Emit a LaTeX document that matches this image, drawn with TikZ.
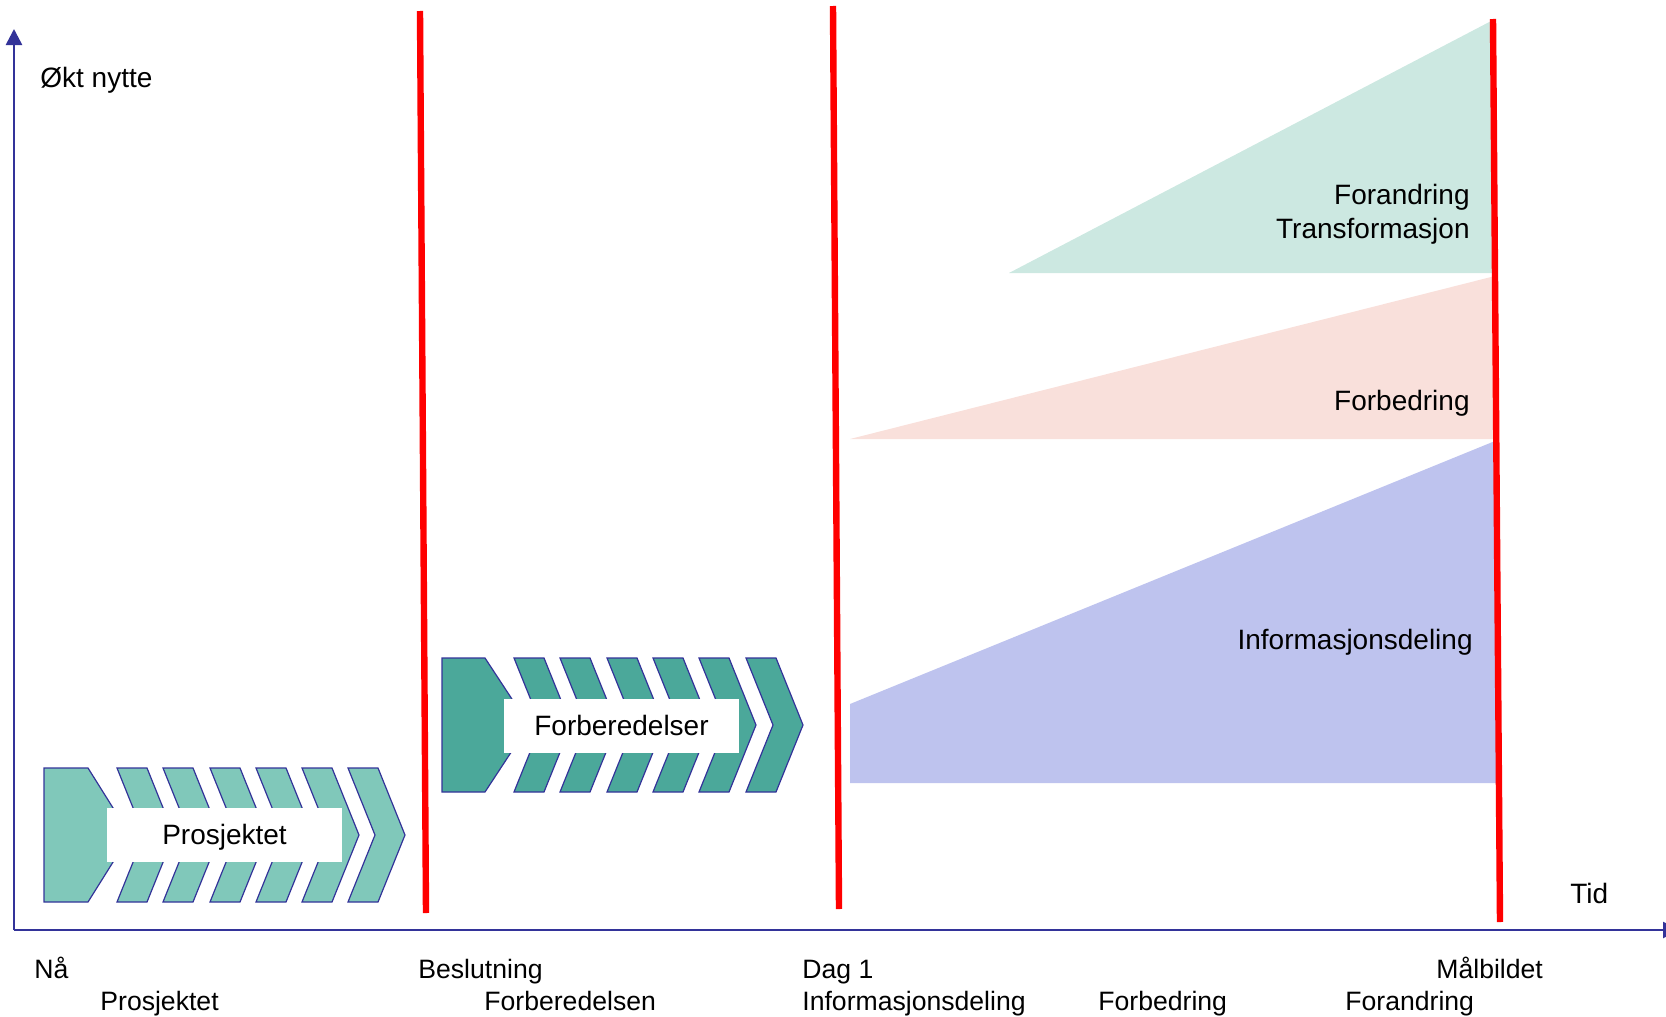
\documentclass[tikz,border=0pt]{standalone}
\usepackage{fontspec}
\setmainfont{Liberation Sans}
\usetikzlibrary{arrows.meta}
\definecolor{axisblue}{HTML}{333399}
\definecolor{tealA}{HTML}{80C8BA}
\definecolor{tealB}{HTML}{4BA89A}
\definecolor{triGreen}{HTML}{CCE8E1}
\definecolor{triPink}{HTML}{F9E0DB}
\definecolor{triBlue}{HTML}{BEC3EE}
\newcommand\chevshape[3]{\draw[#3] (#1,#2) -- ++(30,0) -- ++(27,67) -- ++(-27,67) -- ++(-30,0) -- ++(27,-67) -- cycle;}
\begin{document}
\begin{tikzpicture}[x=0.5pt,y=-0.5pt,
  axisline/.style={draw=axisblue,line width=1.3pt},
  redline/.style={draw=red,line width=3.2pt},
  chevA/.style={fill=tealA,draw=axisblue,line width=0.6pt,line join=miter},
  chevB/.style={fill=tealB,draw=axisblue,line width=0.6pt,line join=miter},
  biglbl/.style={inner sep=0pt,font=\fontsize{14}{16}\selectfont},
  botlbl/.style={inner sep=0pt,anchor=base west,font=\fontsize{13.3}{15}\selectfont},
  whitebox/.style={fill=white,inner sep=0pt,minimum width=117.5pt,minimum height=27pt,
    text height=9.5pt,text depth=0pt,font=\fontsize{14}{16}\selectfont}]
\useasboundingbox (0,0) rectangle (1666,1017);
\clip (0,0) rectangle (1666,1017);

% triangles
\fill[triGreen] (1009,273) -- (1495,19) -- (1495,273) -- cycle;
\fill[triPink] (850,439) -- (1495,276) -- (1495,439) -- cycle;
\fill[triBlue] (850,704) -- (1495,441) -- (1497,783) -- (850,783) -- cycle;

% group 1 chevrons
\draw[chevA] (44,768) -- (88,768) -- (130,835) -- (88,902) -- (44,902) -- cycle;
\foreach \xx in {117,163,210,256,302,348}{\chevshape{\xx}{768}{chevA}}
\node[whitebox] (prosj) at (224.5,835) {Prosjektet};

% group 2 chevrons
\draw[chevB] (442,658) -- (485,658) -- (529,725) -- (485,792) -- (442,792) -- cycle;
\foreach \xx in {514,560,607,653,699,746}{\chevshape{\xx}{658}{chevB}}
\node[whitebox] (forb) at (621.5,726) {Forberedelser};

% axes
\coordinate (O) at (14,930);
\coordinate (ytop) at (14,29);
\coordinate (xend) at (1679,930);
\draw[axisline,-{Triangle[length=8pt,width=8pt]}] (O) -- (ytop);
\draw[axisline,-{Triangle[length=8pt,width=8pt]}] (O) -- (xend);

% red lines
\coordinate (r1a) at (420,11); \coordinate (r1b) at (426,913);
\coordinate (r2a) at (833,6); \coordinate (r2b) at (839,909);
\coordinate (r3a) at (1493,19); \coordinate (r3b) at (1500,922);
\draw[redline] (r1a) -- (r1b);
\draw[redline] (r2a) -- (r2b);
\draw[redline] (r3a) -- (r3b);

% labels
\node[biglbl,anchor=base west] (okt) at (40,87) {Økt nytte};
\node[biglbl,anchor=base west] (tid) at (1570,903) {Tid};
\node[biglbl,anchor=base east] (foran) at (1470,204) {Forandring};
\node[biglbl,anchor=base east] (transf) at (1470,238) {Transformasjon};
\node[biglbl,anchor=base east] (forbed) at (1470,410) {Forbedring};
\node[biglbl,anchor=base east] (infod) at (1473,649) {Informasjonsdeling};

\node[botlbl] (na) at (34,978) {Nå};
\node[botlbl] (prosjb) at (100,1010) {Prosjektet};
\node[botlbl] (beslut) at (418,978) {Beslutning};
\node[botlbl] (forberb) at (484,1010) {Forberedelsen};
\node[botlbl] (dag) at (802,978) {Dag 1};
\node[botlbl] (infob) at (802,1010) {Informasjonsdeling};
\node[botlbl] (forbedb) at (1098,1010) {Forbedring};
\node[botlbl] (foranb) at (1345,1010) {Forandring};
\node[botlbl] (malb) at (1436,978) {Målbildet};
\end{tikzpicture}
\end{document}
